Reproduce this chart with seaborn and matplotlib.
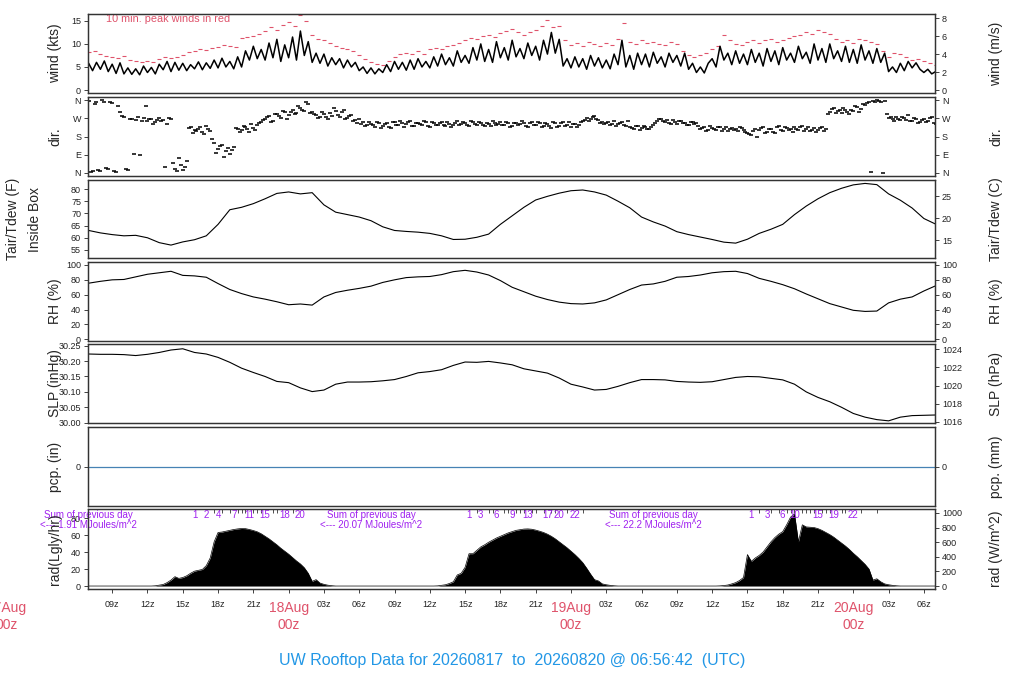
import numpy as np
import pandas as pd
import matplotlib
matplotlib.use("Agg")
import matplotlib.pyplot as plt
import matplotlib.dates as mdates
import seaborn as sns

sns.set_style("ticks")
plt.rcParams['font.family'] = ['Liberation Sans', 'DejaVu Sans']

RED = '#DF536B'
BLUE = '#2297E6'
PURPLE = '#A020F0'
PCP_BLUE = '#4682B4'

# ---- data (UTC) ----
# 20-minute samples from 17Aug 07z to 20Aug 07z
wind_kts = [
    5.8, 4.2, 6.0, 4.5, 6.3, 4.0, 5.6, 3.6, 5.9, 3.5, 4.8, 3.4,
    4.6, 3.3, 5.2, 3.8, 4.9, 3.5, 5.6, 4.4, 6.2, 4.0, 6.0, 4.3,
    5.8, 4.2, 5.5, 4.6, 6.1, 4.4, 5.9, 4.7, 6.5, 4.8, 6.9, 5.0,
    6.2, 4.6, 7.2, 5.0, 8.5, 6.5, 9.5, 6.8, 8.8, 6.5, 10.2, 7.0,
    11.0, 6.2, 9.8, 7.0, 11.5, 6.5, 12.8, 7.5, 10.5, 6.0, 8.0, 5.8,
    7.8, 5.2, 7.0, 5.5, 6.8, 4.8, 6.5, 5.0, 6.0, 4.2, 5.0, 3.6,
    4.8, 3.5, 4.6, 3.8, 5.5, 4.0, 6.2, 4.5, 6.0, 4.3, 6.5, 4.5,
    6.8, 5.0, 6.2, 4.8, 7.2, 5.2, 7.8, 5.5, 7.0, 5.2, 8.5, 6.0,
    7.5, 5.8, 9.2, 6.5, 10.0, 6.2, 8.8, 6.0, 10.5, 7.0, 9.2, 6.5,
    10.8, 7.2, 9.0, 6.8, 10.2, 7.5, 9.5, 6.5, 10.8, 7.8, 12.5, 8.0,
    11.0, 5.2, 6.8, 4.8, 7.2, 5.0, 6.8, 4.5, 7.5, 5.2, 7.0, 4.8,
    6.5, 4.6, 7.8, 5.5, 10.8, 5.0, 7.5, 4.5, 8.0, 5.5, 7.8, 5.0,
    8.2, 5.8, 7.2, 5.0, 8.0, 6.0, 7.5, 5.2, 8.0, 4.5, 5.8, 3.8,
    5.0, 3.7, 5.8, 6.8, 5.0, 9.5, 6.5, 8.0, 5.5, 8.5, 5.8, 7.8,
    5.5, 8.8, 6.0, 8.0, 5.2, 9.0, 6.2, 8.5, 5.5, 9.2, 6.5, 8.0,
    6.0, 9.5, 6.8, 8.2, 5.8, 10.0, 6.5, 9.0, 6.0, 10.0, 6.8, 8.5,
    6.2, 9.5, 6.0, 8.8, 5.8, 9.8, 6.5, 8.5, 5.8, 9.0, 6.0, 8.0,
    4.0, 5.0, 3.8, 5.8, 4.2, 6.2, 4.8, 5.9, 4.5, 3.8, 4.5, 3.5,
    4.0,
]

# 30-minute peak winds
peak_kts = [
    8.3, 8.4, 7.9, 7.3, 7.2, 7.0, 7.4, 6.6,
    6.2, 6.0, 6.3, 6.0, 6.8, 7.1, 7.0, 7.2,
    7.5, 8.2, 8.5, 8.8, 8.6, 9.2, 9.4, 9.8,
    9.6, 9.3, 11.2, 11.5, 11.8, 12.2, 12.8, 13.6,
    13.0, 14.2, 14.8, 13.8, 16.3, 15.0, 12.0, 11.0,
    10.8, 10.3, 9.6, 9.2, 8.8, 8.5, 7.5, 6.8,
    6.0, 5.6, 5.5, 6.2, 7.2, 7.8, 8.0, 7.8,
    8.5, 7.9, 8.8, 9.2, 9.0, 9.5, 9.8, 10.2,
    10.8, 11.2, 11.0, 11.8, 12.0, 11.5, 12.4, 12.8,
    13.2, 12.6, 12.0, 12.5, 13.0, 13.8, 15.1, 13.6,
    14.0, 10.8, 9.8, 10.2, 9.5, 10.5, 10.0, 9.6,
    10.2, 9.8, 11.0, 14.5, 10.5, 10.0, 10.8, 10.2,
    10.5, 10.0, 9.8, 10.5, 10.0, 8.5, 7.5, 7.2,
    7.5, 8.0, 9.0, 9.5, 12.0, 10.8, 10.0, 9.8,
    10.4, 10.8, 10.2, 10.8, 11.0, 10.5, 10.8, 11.2,
    11.8, 12.0, 12.5, 12.2, 13.0, 12.5, 12.2, 11.0,
    10.5, 10.8, 10.2, 11.0, 10.8, 10.5, 10.0, 8.5,
    7.2, 8.0, 7.8, 7.2, 6.5, 6.8, 6.2, 5.8,
    5.5,
]

# 20-minute wind direction (deg), on the hour/20/40
dir_deg = [
    355, 12, 350, 8, 352, 18, 345, 5, 300, 275, 15, 268,
    262, 90, 270, 258, 265, 250, 272, 262, 240, 268, 20, 75,
    15, 60, 225, 210, 215, 200, 230, 205, 150, 120, 140, 110,
    95, 130, 215, 210, 225, 200, 220, 235, 250, 265, 280, 258,
    290, 270, 300, 285, 310, 295, 320, 305, 340, 300, 285, 275,
    290, 265, 280, 305, 275, 310, 270, 285, 260, 265, 250, 235,
    240, 225, 245, 230, 245, 222, 250, 235, 245, 240, 255, 230,
    245, 235, 250, 225, 245, 238, 250, 230, 242, 235, 255, 240,
    245, 232, 250, 238, 248, 230, 242, 255, 235, 250, 238, 245,
    230, 248, 240, 245, 225, 250, 235, 248, 230, 240, 220, 245,
    230, 250, 238, 225, 240, 235, 255, 270, 265, 280, 260, 250,
    245, 235, 255, 240, 250, 232, 225, 215, 232, 220, 228, 218,
    235, 255, 265, 250, 245, 260, 240, 255, 248, 238, 252, 245,
    215, 225, 210, 220, 212, 225, 218, 208, 222, 215, 228, 210,
    195, 185, 215, 210, 225, 200, 215, 195, 230, 205, 220, 215,
    225, 210, 230, 215, 205, 222, 210, 228, 218, 300, 320, 305,
    295, 310, 290, 305, 325, 315, 335, 350, 355, 358, 352, 357,
    270, 265, 275, 260, 270, 285, 255, 265, 250, 268, 258, 275,
    240,
]
# wind direction at :10/:30/:50
dir_deg_b = [
    5, 340, 15, 358, 25, 348, 10, 330, 280, 20, 265, 95,
    275, 255, 330, 268, 240, 262, 255, 30, 270, 50, 10, 40,
    30, 220, 195, 205, 225, 190, 215, 170, 100, 135, 80, 125,
    115, 220, 200, 230, 215, 240, 210, 245, 260, 275, 250, 290,
    280, 305, 265, 300, 290, 330, 310, 350, 295, 290, 270, 300,
    275, 295, 320, 285, 300, 265, 280, 255, 245, 240, 230, 250,
    235, 250, 220, 240, 228, 250, 238, 255, 228, 250, 232, 245,
    240, 255, 230, 250, 235, 245, 238, 250, 225, 248, 235, 252,
    238, 255, 240, 250, 235, 245, 230, 248, 240, 235, 252, 228,
    245, 235, 255, 232, 245, 238, 250, 228, 245, 232, 250, 228,
    245, 232, 250, 240, 228, 250, 262, 258, 275, 265, 248, 240,
    250, 242, 230, 248, 235, 255, 220, 230, 210, 232, 215, 225,
    245, 268, 255, 262, 240, 250, 258, 245, 235, 250, 240, 232,
    220, 208, 230, 215, 228, 205, 225, 215, 210, 205, 220, 200,
    190, 205, 180, 220, 195, 215, 200, 225, 210, 225, 210, 200,
    215, 225, 205, 228, 212, 200, 220, 205, 290, 315, 295, 310,
    320, 300, 310, 330, 300, 340, 345, 5, 352, 355, 0, 290,
    275, 258, 268, 278, 262, 255, 270, 248, 262, 252, 270, 245,
]

# hourly
tair_f = [
    63.0, 62.0, 61.3, 60.8, 61.0, 60.0, 58.0, 57.0, 58.3, 59.2, 60.8, 65.5,
    71.5, 72.5, 74.0, 76.0, 78.2, 78.8, 78.0, 78.5, 73.5, 70.5, 69.5, 68.5,
    67.0, 64.5, 63.0, 62.6, 62.3, 61.8, 60.8, 59.3, 59.4, 60.2, 61.5, 65.5,
    69.0, 72.5, 75.5, 77.0, 78.3, 79.3, 79.6, 78.8, 77.5, 75.0, 72.3, 68.5,
    66.5, 64.8, 62.5, 61.3, 60.3, 59.3, 58.2, 57.8, 59.4, 61.8, 63.5, 65.5,
    69.5, 73.0, 76.0, 78.5, 80.3, 81.7, 82.3, 81.8, 78.0, 75.4, 72.2, 67.9,
    65.6,
]
rh_pct = [
    75.5, 78.0, 80.0, 80.5, 84.0, 87.5, 89.5, 91.5, 86.0, 85.3, 83.5, 75.0,
    67.0, 61.5, 57.0, 54.0, 50.5, 46.5, 47.5, 46.0, 57.0, 63.0, 66.0, 68.5,
    71.5, 76.5, 80.0, 83.0, 84.0, 84.5, 87.0, 91.0, 92.8, 90.5, 86.5, 79.0,
    70.0, 64.0, 58.0, 53.5, 50.0, 48.0, 47.5, 49.0, 53.0, 60.0, 67.0, 73.0,
    74.5, 78.0, 83.5, 84.5, 86.5, 89.5, 91.0, 91.5, 88.5, 82.0, 78.0, 73.5,
    68.0, 61.0, 54.5, 48.0, 43.5, 39.0, 37.5, 38.0, 49.0, 54.0, 57.0, 65.0,
    72.0,
]
slp_inhg = [
    30.223, 30.222, 30.222, 30.221, 30.218, 30.222, 30.228, 30.236, 30.240, 30.228, 30.223, 30.212,
    30.196, 30.177, 30.163, 30.150, 30.134, 30.130, 30.113, 30.101, 30.106, 30.125, 30.132, 30.132,
    30.133, 30.136, 30.140, 30.150, 30.162, 30.166, 30.172, 30.186, 30.197, 30.196, 30.199, 30.194,
    30.188, 30.175, 30.168, 30.161, 30.145, 30.125, 30.116, 30.106, 30.108, 30.118, 30.130, 30.140,
    30.140, 30.139, 30.134, 30.132, 30.131, 30.133, 30.140, 30.147, 30.150, 30.149, 30.144, 30.139,
    30.125, 30.100, 30.082, 30.068, 30.050, 30.030, 30.018, 30.010, 30.006, 30.018, 30.023, 30.024,
    30.025,
]
pcp_in = [0.0] * 73

# 20-minute solar radiation (Langley/hr)
rad_ly = [
    0, 0, 0, 0, 0, 0, 0, 0, 0, 0, 0, 0,
    0, 0, 0, 0, 0, 0.3, 1.0, 1.8, 4.0, 7.0, 11.0, 9.0,
    10, 12, 15, 17.5, 18.5, 19.5, 24, 33, 52, 63, 63.5, 64.5,
    65.5, 66.5, 67.2, 67.7, 67.5, 66.5, 65.3, 63.8, 61.5, 58.5, 55.5, 52,
    48.5, 44.5, 41, 37.5, 33.5, 29.5, 26, 21.5, 15, 5.5, 7.5, 3.5,
    2.0, 1.0, 0.4, 0, 0, 0, 0, 0, 0, 0, 0, 0,
    0, 0, 0, 0, 0, 0, 0, 0, 0, 0, 0, 0,
    0, 0, 0, 0, 0, 0.2, 0.8, 1.5, 3.0, 5.0, 13, 15,
    22, 38, 38, 42, 46, 48.5, 51.5, 54, 56.5, 58.5, 60.5, 62.5,
    64, 65.5, 66.3, 67, 67.2, 66.8, 65.8, 64.5, 63, 61, 58.5, 55.5,
    52, 48.5, 45, 41, 37, 32.5, 27.5, 21, 14, 7.5, 6.0, 2.5,
    1.5, 0.8, 0.3, 0, 0, 0, 0, 0, 0, 0, 0, 0,
    0, 0, 0, 0, 0, 0, 0, 0, 0, 0, 0, 0,
    0, 0, 0, 0, 0, 0.2, 0.6, 1.2, 2.5, 4.0, 6.5, 10,
    37, 29, 33, 36, 40, 46, 52, 57, 61, 64, 72, 81,
    85, 52, 72, 69.5, 69.2, 68.8, 67.5, 65.5, 63, 60.5, 57.5, 54,
    50.5, 47, 43, 38.5, 34.5, 30, 25.5, 20, 7.0, 8.5, 5.0, 2.5,
    1.5, 0.8, 0.3, 0, 0, 0, 0, 0, 0, 0, 0, 0,
    0,
]

local_days = ['2026-08-17 07:00', '2026-08-18 07:00', '2026-08-19 07:00']
prev_day_sums = ['1.91', '20.07', '22.2']
mj_labels = [[1, 2, 4, 7, 11, 15, 18, 20],
             [1, 3, 6, 9, 13, 17, 20, 22],
             [1, 3, 6, 10, 15, 19, 22]]

t_start = pd.Timestamp('2026-08-17 06:56:42')
t_end = pd.Timestamp('2026-08-20 06:56:42')
t20 = pd.date_range('2026-08-17 07:00', '2026-08-20 07:00', freq='20min')
t20b = t20[:-1] + pd.Timedelta(minutes=10)
t30 = pd.date_range('2026-08-17 07:00', '2026-08-20 07:00', freq='30min')
t60 = pd.date_range('2026-08-17 07:00', '2026-08-20 07:00', freq='60min')

# ---- layout ----
W, H = 1024, 700
fig = plt.figure(figsize=(W / 100, H / 100), dpi=100)
x0, x1 = 88, 935
tops = [14, 97, 180, 262, 344, 427, 509]
bots = [93, 176, 258, 341, 423, 506, 589]
axes = [fig.add_axes([x0 / W, 1 - b / H, (x1 - x0) / W, (b - t) / H])
        for t, b in zip(tops, bots)]
ax_w, ax_d, ax_t, ax_rh, ax_p, ax_pcp, ax_r = axes

# wind
sns.lineplot(x=t20, y=wind_kts, color='black', lw=1.1, estimator=None, ax=ax_w)
sns.scatterplot(x=t30, y=peak_kts, marker='_', s=7, color=RED, linewidth=0.8, ax=ax_w)
ax_w.text(0.021, 0.94, '10 min. peak winds in red', transform=ax_w.transAxes,
          color=RED, fontsize=7.8, va='center')

# direction
sns.scatterplot(x=t20, y=dir_deg, marker='_', s=6, color='black', linewidth=1.1, ax=ax_d)
sns.scatterplot(x=t20b, y=dir_deg_b, marker='_', s=6, color='black', linewidth=1.1, ax=ax_d)

# temperature, RH, pressure, precip
sns.lineplot(x=t60, y=tair_f, color='black', lw=0.8, estimator=None, ax=ax_t)
sns.lineplot(x=t60, y=rh_pct, color='black', lw=0.8, estimator=None, ax=ax_rh)
sns.lineplot(x=t60, y=slp_inhg, color='black', lw=0.8, estimator=None, ax=ax_p)
sns.lineplot(x=t60, y=pcp_in, color=PCP_BLUE, lw=0.9, estimator=None, ax=ax_pcp)

# radiation
ax_r.fill_between(t20, rad_ly, 0, color='black', lw=0)
sns.lineplot(x=t20, y=rad_ly, color='black', lw=0.5, estimator=None, ax=ax_r)

# y scales, left and right
scales = [
    (ax_w, (-0.65, 16.5), [0, 5, 10, 15], None, lambda v: v / 1.94384, [0, 2, 4, 6, 8], None),
    (ax_d, (-15, 375), [0, 90, 180, 270, 360], ['N', 'E', 'S', 'W', 'N'], lambda v: v,
     [0, 90, 180, 270, 360], ['N', 'E', 'S', 'W', 'N']),
    (ax_t, (51.7, 83.7), [55, 60, 65, 70, 75, 80], None, lambda v: (v - 32) * 5 / 9, [15, 20, 25], None),
    (ax_rh, (-2.3, 104), [0, 20, 40, 60, 80, 100], None, lambda v: v, [0, 20, 40, 60, 80, 100], None),
    (ax_p, (29.999, 30.2555), [30.0, 30.05, 30.1, 30.15, 30.2, 30.25],
     ['30.00', '30.05', '30.10', '30.15', '30.20', '30.25'], lambda v: v * 33.8639,
     [1016, 1018, 1020, 1022, 1024], None),
    (ax_pcp, (-1, 1), [0], None, lambda v: v * 25.4, [0], None),
    (ax_r, (-3.5, 90.6), [0, 20, 40, 60, 80], None, lambda v: v * 11.63,
     [0, 200, 400, 600, 800, 1000], None),
]
left_labels = ['wind (kts)', 'dir.', 'Tair/Tdew (F)\nInside Box', 'RH (%)', 'SLP (inHg)',
               'pcp. (in)', 'rad(Lgly/hr)']
right_labels = ['wind (m/s)', 'dir.', 'Tair/Tdew (C)', 'RH (%)', 'SLP (hPa)', 'pcp. (mm)',
                'rad (W/m^2)']

for i, (ax, lim, ticks, tlabels, conv, rticks, rlabels) in enumerate(scales):
    ax.set_ylim(*lim)
    ax.set_yticks(ticks)
    if tlabels:
        ax.set_yticklabels(tlabels)
    ax.set_xlim(t_start, t_end)
    ax.set_xlabel('')
    ax.set_ylabel('')
    rax = ax.twinx()
    rax.set_ylim(conv(lim[0]), conv(lim[1]))
    rax.set_yticks(rticks)
    if rlabels:
        rax.set_yticklabels(rlabels)
    for a in (ax, rax):
        a.tick_params(labelsize=6.5, length=3, width=0.6, pad=2, colors='#222222')
        for sp in a.spines.values():
            sp.set_color('#333333')
            sp.set_linewidth(0.9)
    if ax is not ax_r:
        ax.tick_params(axis='x', bottom=False, labelbottom=False)
    yc = 1 - (tops[i] + bots[i]) / 2 / H
    if i == 2:
        fig.text(24 / W, yc, left_labels[i], rotation=90, ha='center', va='center',
                 fontsize=10, linespacing=1.65, multialignment='center')
    else:
        fig.text(55 / W, yc, left_labels[i], rotation=90, ha='center', va='center', fontsize=10)
    fig.text(996 / W, yc, right_labels[i], rotation=90, ha='center', va='center', fontsize=10)

# time axis
ax_r.xaxis.set_major_locator(mdates.HourLocator(byhour=range(0, 24, 3)))


def hour_fmt(v, pos):
    d = mdates.num2date(v)
    return '' if d.hour == 0 else d.strftime('%Hz')


ax_r.xaxis.set_major_formatter(plt.FuncFormatter(hour_fmt))
ax_r.tick_params(axis='x', labelsize=6.5, length=3, pad=5)
for day in pd.date_range('2026-08-17', '2026-08-20', freq='D'):
    ax_r.annotate(day.strftime('%d%b') + '\n00z', xy=(mdates.date2num(day), 0),
                  xycoords=('data', 'axes fraction'), xytext=(0, -8.5),
                  textcoords='offset points', ha='center', va='top', color=RED,
                  fontsize=10, linespacing=1.3, annotation_clip=False)

# cumulative daily radiation markers (MJ/m^2) per local day
step_mj = np.array(rad_ly) * 11.63 * 1200 / 1e6
xt = ax_r.get_xaxis_transform()
for k, d0 in enumerate(pd.to_datetime(local_days)):
    mask = (t20 >= d0) & (t20 < d0 + pd.Timedelta(hours=24))
    t_day = t20[mask]
    cum = np.cumsum(step_mj[mask])
    for m in range(1, int(cum.max()) + 1):
        tm = mdates.date2num(t_day[np.searchsorted(cum, m)])
        if m in mj_labels[k]:
            ax_r.text(tm, 0.925, str(m), transform=xt, ha='center', va='center',
                      fontsize=7, color=PURPLE)
        else:
            ax_r.vlines(tm, 0.945, 1.0, transform=xt, color='#333333', lw=0.6)
    xd = mdates.date2num(d0)
    ax_r.text(xd, 0.925, 'Sum of previous day', transform=xt, ha='center', va='center',
              fontsize=7, color=PURPLE, clip_on=False)
    ax_r.text(xd, 0.8, '<--- ' + prev_day_sums[k] + ' MJoules/m^2', transform=xt,
              ha='center', va='center', fontsize=7, color=PURPLE, clip_on=False)

fig.text(0.5, 1 - 660 / H, 'UW Rooftop Data for 20260817  to  20260820 @ 06:56:42  (UTC)',
         ha='center', va='center', color=BLUE, fontsize=11.5)

fig.savefig('out.png', dpi=100)
